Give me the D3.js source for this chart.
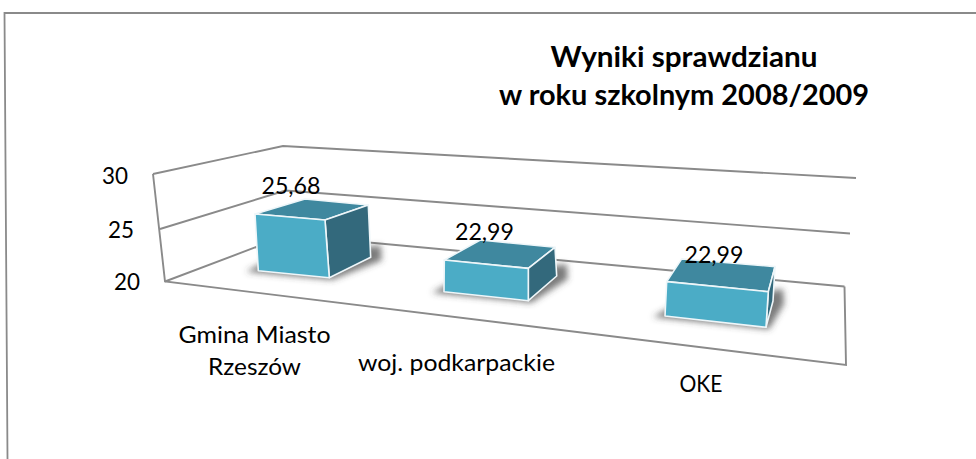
<!DOCTYPE html>
<html><head><meta charset="utf-8">
<script src="https://cdn.jsdelivr.net/npm/d3@7"></script>
<style>html,body{margin:0;padding:0;background:#fff}svg{display:block}</style></head>
<body><svg id="c" width="976" height="459"></svg>
<script>
const categories = ["Gmina Miasto\nRzeszów", "woj. podkarpackie", "OKE"];
const values = [25.68, 22.99, 22.99];
const valueLabels = ["25,68", "22,99", "22,99"];
const yTicks = [20, 25, 30];
const titleLines = ["Wyniki sprawdzianu", "w roku szkolnym 2008/2009"];

const FONT = "Lato, 'Open Sans', sans-serif";
const svg = d3.select("#c");
const defs = svg.append("defs");
defs.append("filter").attr("id","soft").append("feGaussianBlur").attr("stdDeviation",0.4);
defs.append("filter").attr("id","shadow").attr("x","-30%").attr("y","-40%").attr("width","160%").attr("height","180%")
  .append("feGaussianBlur").attr("stdDeviation",3.2);

// Perspective frame: each vertical edge of the walls is a value scale
const edge = (xs, ys) => ({x:d3.scaleLinear().domain(yTicks).range(xs), y:d3.scaleLinear().domain(yTicks).range(ys)});
const frontLeft = edge([165,160,153],[281.5,229,174]);
const backLeft  = edge([288,285.5,283],[235,190.5,146]);
const backRight = edge([844.5,850,856],[286.5,233.5,178]);
const floorFrontRight = [846,365];
const pt = (e,v) => [e.x(v), e.y(v)];

const frame = svg.append("g").attr("fill","none").attr("stroke","#8a8a8a").attr("stroke-width",1.9).attr("filter","url(#soft)");
const line = d3.line();
yTicks.forEach(v => frame.append("path").attr("d", line([pt(frontLeft,v),pt(backLeft,v),pt(backRight,v)])));
frame.append("path").attr("d", line([pt(frontLeft,30),pt(frontLeft,20),floorFrontRight,pt(backRight,20)]));

// Outer border of the chart area
svg.append("path").attr("d", line([[976,13],[4.5,13],[7.5,459]])).attr("fill","none").attr("stroke","#8a8a8a").attr("stroke-width",1.8).attr("filter","url(#soft)");

// Bars: placement changes with the perspective, so each quantity is a scale over the category index
const idx = [0,1,2];
const s = r => d3.scaleLinear().domain(idx).range(r);
const baseX = s([258.3,444,665]), baseY = s([270.7,291.7,316]);
const frontW = s([71,84.3,101]), frontDy = s([7,9,11.3]);
const depthDx = s([41.4,28.4,7]), depthDy = s([-20.4,-24.7,-26.3]);
const unitFL = s([9.98,10.6,11.5]), unitFR = s([10.16,10.8,11.9]), unitBR = s([9.2,9.6,11.5]);
const leanL = s([-3.3,0.3,1.7]), leanR = s([-4.3,0,2.3]), leanB = s([-2.4,-1.7,2]);
const backDx = s([50,36,15]), backDy = s([-15,-20,-22.7]);

const bars = svg.append("g");
values.forEach((val,i) => {
  const h = val - yTicks[0];
  const b0 = [baseX(i), baseY(i)];
  const b1 = [b0[0]+frontW(i), b0[1]+frontDy(i)];
  const b2 = [b1[0]+depthDx(i), b1[1]+depthDy(i)];
  const t0 = [b0[0]+leanL(i), b0[1]-h*unitFL(i)];
  const t1 = [b1[0]+leanR(i), b1[1]-h*unitFR(i)];
  const t2 = [b2[0]+leanB(i), b2[1]-h*unitBR(i)];
  const t3 = [t0[0]+backDx(i), t0[1]+backDy(i)];
  const g = bars.append("g");
  g.append("path").attr("filter","url(#shadow)").attr("fill","#444").attr("fill-opacity",0.7)
    .attr("d", line([[b0[0]-12,b0[1]+1],[b1[0]+3,b1[1]+2],[b2[0]+11,b2[1]+3],[b2[0]+10,b2[1]-12],[b0[0]+8,b0[1]-10]])+"Z");
  const face = (pts,fill) => g.append("path").attr("d",line(pts)+"Z").attr("fill",fill)
    .attr("stroke","#eef6f9").attr("stroke-width",1.6).attr("stroke-linejoin","round");
  face([t0,t1,t2,t3],"#3f889f");
  face([t1,t2,b2,b1],"#33697c");
  face([t0,t1,b1,b0],"#4bacc6");
});

// Text, stretched to the widths
const text = (x,y,str,size,len,anchor="middle",weight=400) => {
  const n = svg.append("text").attr("x",x).attr("y",y)
    .attr("font-family",FONT).attr("font-size",size).attr("font-weight",weight).attr("text-anchor",anchor).attr("fill","#000").text(str);
  if(len) n.attr("textLength",len).attr("lengthAdjust","spacingAndGlyphs");
};

const labelPos = [[291,194],[484.5,240],[714,262.5]];
valueLabels.forEach((t,i)=>text(labelPos[i][0],labelPos[i][1],t,24,59));

const tickPos = {30:[128,184],25:[134,238],20:[140,290]};
yTicks.forEach(v=>text(tickPos[v][0],tickPos[v][1],String(v),23,26,"end"));

const catPos = [[254.5,[343,375],[152,93]],[456.5,[371],[197]],[701,[392],[43]]];
categories.forEach((c,i)=>c.split("\n").forEach((l,j)=>text(catPos[i][0],catPos[i][1][j],l,23,catPos[i][2][j])));

const titleLen = [267,370];
titleLines.forEach((t,i)=>text(684,[66.5,105][i],t,29,titleLen[i],"middle",700));
</script></body></html>
